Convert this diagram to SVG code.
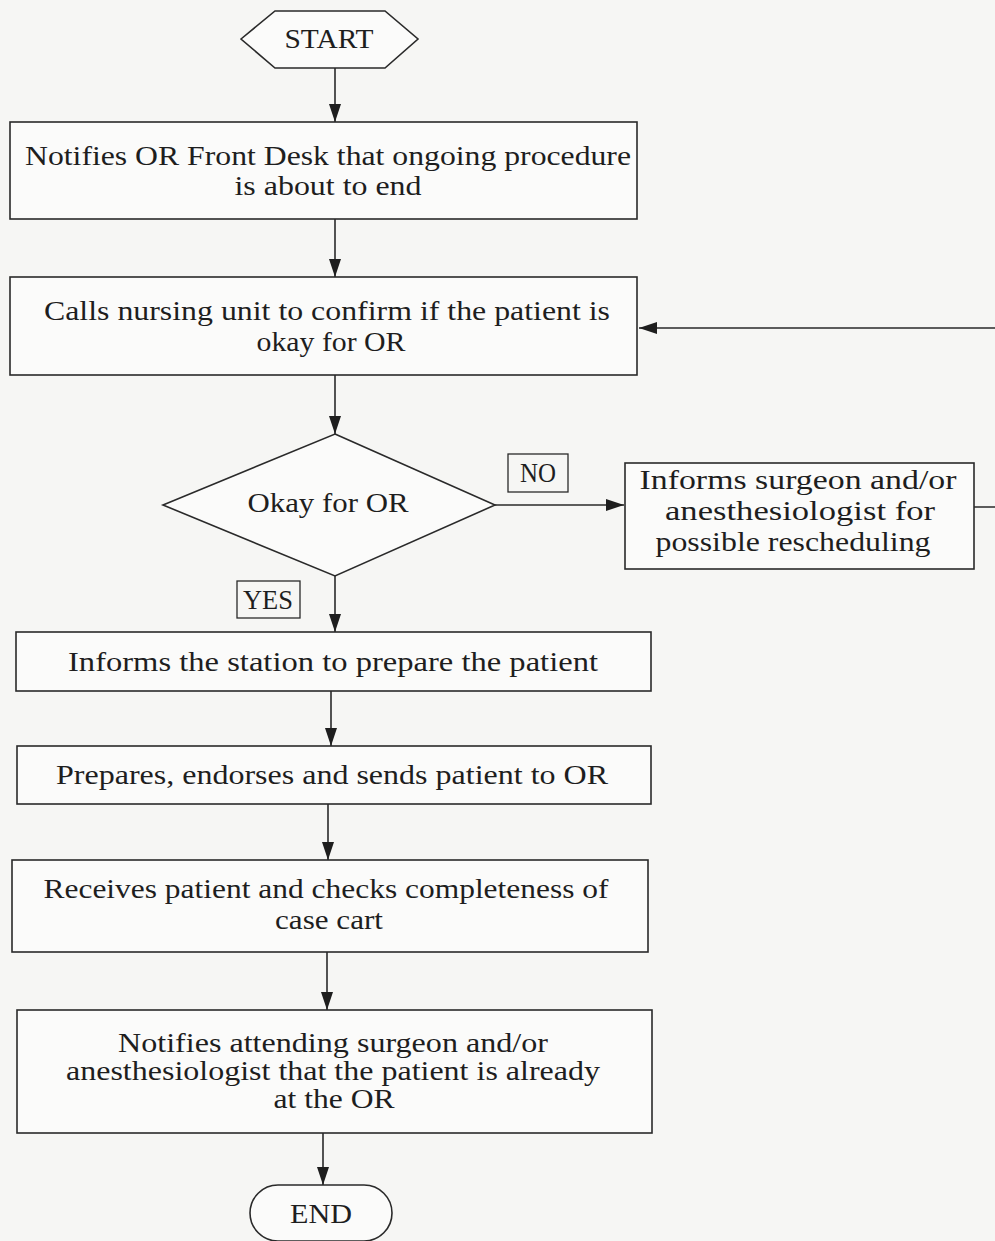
<svg xmlns="http://www.w3.org/2000/svg" width="995" height="1241" viewBox="0 0 995 1241">
<style>
.bg{fill:#f6f6f4}
.sh{fill:#fbfbfa;stroke:#2a2a2a;stroke-width:1.6}
.lb{fill:none;stroke:#2a2a2a;stroke-width:1.3}
.t{font-family:"Liberation Serif","Times New Roman",serif;font-size:28px;fill:#1e1e1e;text-anchor:middle}
.c{fill:none;stroke:#2a2a2a;stroke-width:1.6}
</style>
<defs>
<marker id="ahv" viewBox="0 0 18 12" refX="18" refY="6" markerWidth="18" markerHeight="12" markerUnits="userSpaceOnUse" orient="auto">
<path d="M0,0 L18,6 L0,12 Z" fill="#1e1e1e"/>
</marker>
</defs>
<rect class="bg" x="0" y="0" width="995" height="1241"/>
<g id="connectors">
<line class="c" x1="335" y1="68" x2="335" y2="122" marker-end="url(#ahv)"/>
<line class="c" x1="335" y1="219" x2="335" y2="277" marker-end="url(#ahv)"/>
<line class="c" x1="335" y1="375" x2="335" y2="434" marker-end="url(#ahv)"/>
<line class="c" x1="495" y1="505" x2="624" y2="505" marker-end="url(#ahv)"/>
<path class="c" d="M974,507 L999,507 L999,328 L639,328" marker-end="url(#ahv)"/>
<line class="c" x1="335" y1="576" x2="335" y2="632" marker-end="url(#ahv)"/>
<line class="c" x1="331" y1="691" x2="331" y2="746" marker-end="url(#ahv)"/>
<line class="c" x1="328" y1="804" x2="328" y2="860" marker-end="url(#ahv)"/>
<line class="c" x1="327" y1="952" x2="327" y2="1010" marker-end="url(#ahv)"/>
<line class="c" x1="323" y1="1133" x2="323" y2="1185" marker-end="url(#ahv)"/>
</g>
<g id="start">
<polygon class="sh" points="241,39 275,11 385,11 418,39 385,68 275,68"/>
<text class="t" x="329" y="48" textLength="89" lengthAdjust="spacingAndGlyphs">START</text>
</g>
<g id="notify-desk">
<rect class="sh" x="10" y="122" width="627" height="97"/>
<text class="t" x="328" y="165" textLength="606" lengthAdjust="spacingAndGlyphs">Notifies OR Front Desk that ongoing procedure</text>
<text class="t" x="328" y="195" textLength="187" lengthAdjust="spacingAndGlyphs">is about to end</text>
</g>
<g id="call-unit">
<rect class="sh" x="10" y="277" width="627" height="98"/>
<text class="t" x="327" y="320" textLength="566" lengthAdjust="spacingAndGlyphs">Calls nursing unit to confirm if the patient is</text>
<text class="t" x="331" y="351" textLength="149" lengthAdjust="spacingAndGlyphs">okay for OR</text>
</g>
<g id="decision">
<polygon class="sh" points="335,434 495,505 335,576 163,505"/>
<text class="t" x="328" y="512" textLength="161" lengthAdjust="spacingAndGlyphs">Okay for OR</text>
</g>
<g id="label-no">
<rect class="lb" x="508" y="454" width="60" height="38"/>
<text class="t" x="538" y="482" textLength="36" lengthAdjust="spacingAndGlyphs">NO</text>
</g>
<g id="label-yes">
<rect class="lb" x="237" y="581" width="63" height="37"/>
<text class="t" x="268" y="609" textLength="50" lengthAdjust="spacingAndGlyphs">YES</text>
</g>
<g id="inform-surgeon">
<rect class="sh" x="625" y="463" width="349" height="106"/>
<text class="t" x="798" y="489" textLength="317" lengthAdjust="spacingAndGlyphs">Informs surgeon and/or</text>
<text class="t" x="800" y="520" textLength="270" lengthAdjust="spacingAndGlyphs">anesthesiologist for</text>
<text class="t" x="793" y="551" textLength="275" lengthAdjust="spacingAndGlyphs">possible rescheduling</text>
</g>
<g id="inform-station">
<rect class="sh" x="16" y="632" width="635" height="59"/>
<text class="t" x="333" y="671" textLength="530" lengthAdjust="spacingAndGlyphs">Informs the station to prepare the patient</text>
</g>
<g id="prepare">
<rect class="sh" x="17" y="746" width="634" height="58"/>
<text class="t" x="332" y="784" textLength="552" lengthAdjust="spacingAndGlyphs">Prepares, endorses and sends patient to OR</text>
</g>
<g id="receive">
<rect class="sh" x="12" y="860" width="636" height="92"/>
<text class="t" x="326" y="898" textLength="565" lengthAdjust="spacingAndGlyphs">Receives patient and checks completeness of</text>
<text class="t" x="329" y="929" textLength="108" lengthAdjust="spacingAndGlyphs">case cart</text>
</g>
<g id="notify-attending">
<rect class="sh" x="17" y="1010" width="635" height="123"/>
<text class="t" x="333" y="1052" textLength="430" lengthAdjust="spacingAndGlyphs">Notifies attending surgeon and/or</text>
<text class="t" x="333" y="1080" textLength="534" lengthAdjust="spacingAndGlyphs">anesthesiologist that the patient is already</text>
<text class="t" x="334" y="1108" textLength="121" lengthAdjust="spacingAndGlyphs">at the OR</text>
</g>
<g id="end">
<rect class="sh" x="250" y="1185" width="142" height="56" rx="28" ry="28"/>
<text class="t" x="321" y="1223" textLength="62" lengthAdjust="spacingAndGlyphs">END</text>
</g>
</svg>
